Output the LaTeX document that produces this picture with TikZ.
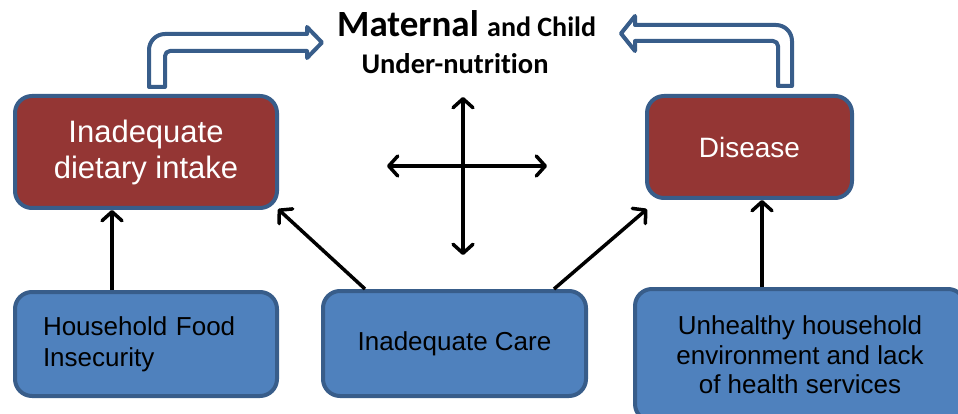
\documentclass[tikz,border=0pt]{standalone}
\usepackage{fontspec}
\setmainfont{Liberation Sans}
\newfontfamily\titlefont[Ligatures=NoCommon]{Carlito}
\usetikzlibrary{arrows.meta}
\definecolor{boxred}{HTML}{943634}
\definecolor{boxblue}{HTML}{4F81BD}
\definecolor{boxline}{HTML}{385D8A}
\tikzset{
  redbox/.style={draw=boxline, fill=boxred, line width=4pt, rounded corners=17pt, text=white, inner sep=0pt},
  bluebox/.style={draw=boxline, fill=boxblue, line width=4pt, rounded corners=17pt, text=black, inner sep=0pt},
  barb/.style={Straight Barb[length=9pt,width=20pt,line cap=round,line join=round]},
  arr/.style={line width=3.5pt, -{Straight Barb[length=9pt,width=20pt,line cap=round,line join=round]}},
  darr/.style={line width=3.5pt, {Straight Barb[length=9pt,width=20pt,line cap=round,line join=round]}-{Straight Barb[length=9pt,width=20pt,line cap=round,line join=round]}},
  blockarrow/.style={draw=boxline, fill=white, line width=4pt, line join=round}
}
\begin{document}
\begin{tikzpicture}[x=1pt,y=-1pt]
\useasboundingbox (0,0) rectangle (958,414);
\clip (0,0) rectangle (958,414);
% boxes
\node[redbox, minimum width=262pt, minimum height=112pt, align=center,
  font={\fontsize{31}{36}\selectfont}] (diet) at (146,152)
  {Inadequate\\dietary intake};
\node[redbox, minimum width=205pt, minimum height=102pt,
  font={\fontsize{28}{34}\selectfont}] (dis) at (749.5,147)
  {Disease};
\node[bluebox, minimum width=262pt, minimum height=104pt, text width=206pt, align=left,
  font={\fontsize{26}{31}\selectfont}] (hh) at (146,344)
  {Household Food\\Insecurity};
\node[bluebox, minimum width=263pt, minimum height=105pt,
  font={\fontsize{26}{31}\selectfont}] (care) at (454.5,343.5)
  {Inadequate Care};
\node[bluebox, minimum width=330pt, minimum height=132pt, align=center,
  font={\fontsize{26}{29.5}\selectfont}] (env) at (800,355)
  {Unhealthy household\\environment and lack\\of health services};
% title
\node[anchor=base west, inner sep=0pt, font=\titlefont\bfseries] (t1) at (337,37)
  {\fontsize{37}{37}\selectfont Maternal \fontsize{28}{28}\selectfont and Child};
\node[anchor=base, inner sep=0pt, font={\titlefont\bfseries\fontsize{28.5}{28.5}\selectfont}] (t2) at (455,74)
  {Under-nutrition};
% block arrows
\draw[blockarrow] (149,87) -- (149,50) arc[start angle=180, end angle=270, radius=16]
  -- (307,34) -- (307,27) -- (322,42.5) -- (307,58) -- (307,51) -- (170,51)
  arc[start angle=270, end angle=180, radius=5] -- (165,87) -- cycle;
\draw[blockarrow] (778,86) -- (778,46) arc[start angle=0, end angle=-90, radius=5]
  -- (635,41) -- (635,51) -- (621,33.5) -- (635,16) -- (635,25) -- (776,25)
  arc[start angle=-90, end angle=0, radius=16] -- (792,86) -- cycle;
% cross
\coordinate (cu) at (463,97);
\coordinate (cd) at (463,255);
\coordinate (cl) at (387,166);
\coordinate (cr) at (547,166);
\draw[darr] (cd) -- (cu);
\draw[darr] (cl) -- (cr);
% connectors
\draw[arr] ([xshift=-34pt]hh.north) -- ([xshift=-34pt]diet.south);
\draw[arr] ([xshift=-89.5pt]care.north) -- ([shift={(-1,-1)}]diet.south east);
\draw[arr] ([xshift=99.5pt]care.north) -- ([shift={(2,9)}]dis.south west);
\draw[arr] ([xshift=-38pt]env.north) -- ([xshift=12.5pt]dis.south);
\end{tikzpicture}
\end{document}
